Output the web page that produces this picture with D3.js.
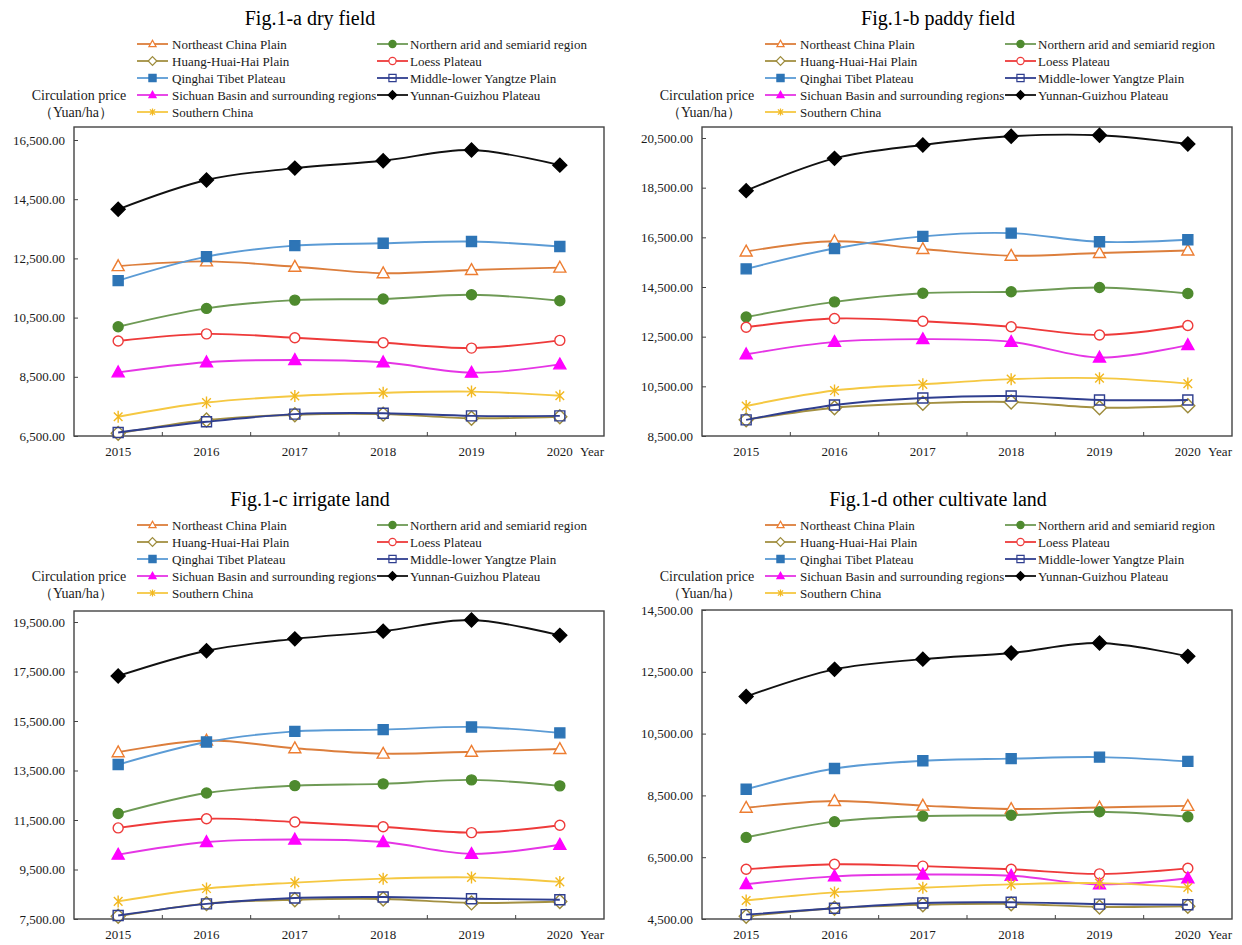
<!DOCTYPE html>
<html>
<head>
<meta charset="utf-8">
<script src="https://cdn.jsdelivr.net/npm/d3@7"></script>
<style>
  body { margin: 0; background: #fff; }
  text { font-family: "Liberation Serif", "Times New Roman", serif; fill: #1a1a1a; }
</style>
</head>
<body>
<div id="root"></div>
<script>
// Chart values.
const years = [2015, 2016, 2017, 2018, 2019, 2020];

const regions = [
  'Northeast China Plain', 'Northern arid and semiarid region',
  'Huang-Huai-Hai Plain', 'Loess Plateau',
  'Qinghai Tibet Plateau', 'Middle-lower Yangtze Plain',
  'Sichuan Basin and surrounding regions', 'Yunnan-Guizhou Plateau',
  'Southern China'
];

const panelTitles = ['Fig.1-a dry field', 'Fig.1-b paddy field', 'Fig.1-c irrigate land', 'Fig.1-d other cultivate land'];

// one row per region, same order as regions
const dryField = [
  [12240, 12400, 12220, 12000, 12110, 12190],
  [10190, 10810, 11090, 11130, 11270, 11070],
  [6590, 7040, 7220, 7240, 7100, 7150],
  [9710, 9950, 9820, 9650, 9470, 9730],
  [11750, 12560, 12930, 13010, 13070, 12900],
  [6620, 6980, 7240, 7270, 7180, 7180],
  [8650, 8990, 9070, 8990, 8640, 8920],
  [14160, 15150, 15550, 15800, 16160, 15650],
  [7150, 7630, 7850, 7960, 8000, 7860]
];

const paddyField = [
  [15930, 16340, 16030, 15760, 15870, 15970],
  [13290, 13900, 14250, 14310, 14480, 14240],
  [9150, 9640, 9820, 9870, 9640, 9720],
  [12880, 13230, 13120, 12900, 12570, 12950],
  [15230, 16050, 16540, 16670, 16320, 16400],
  [9150, 9750, 10030, 10110, 9950, 9950],
  [11790, 12290, 12400, 12290, 11660, 12160],
  [18380, 19680, 20220, 20570, 20610, 20260],
  [9710, 10330, 10580, 10790, 10830, 10610]
];

const irrigateLand = [
  [14240, 14710, 14400, 14180, 14260, 14370],
  [11760, 12590, 12890, 12960, 13120, 12880],
  [7610, 8120, 8280, 8310, 8150, 8210],
  [11180, 11550, 11420, 11230, 10990, 11290],
  [13740, 14650, 15080, 15150, 15260, 15020],
  [7640, 8110, 8350, 8390, 8320, 8280],
  [10100, 10610, 10710, 10610, 10130, 10500],
  [17320, 18340, 18820, 19130, 19580, 18960],
  [8210, 8730, 8970, 9130, 9180, 9000]
];

const otherLand = [
  [8100, 8320, 8170, 8060, 8110, 8160],
  [7140, 7650, 7830, 7860, 7970, 7810],
  [4590, 4850, 4960, 4990, 4890, 4910],
  [6110, 6270, 6210, 6110, 5960, 6140],
  [8700, 9370, 9620, 9690, 9740, 9600],
  [4640, 4850, 5020, 5040, 4980, 4960],
  [5630, 5880, 5940, 5900, 5620, 5820],
  [11700, 12580, 12910, 13110, 13430, 13000],
  [5100, 5360, 5510, 5620, 5660, 5520]
];

const dryTicks = [6500, 8500, 10500, 12500, 14500, 16500];
const paddyTicks = [8500, 10500, 12500, 14500, 16500, 18500, 20500];
const irrigateTicks = [7500, 9500, 11500, 13500, 15500, 17500, 19500];
const otherTicks = [4500, 6500, 8500, 10500, 12500, 14500];

// Styles for each region (same order).
const seriesStyle = [
  { line: '#DC7E3C', stroke: '#ED7D31', fill: '#fff', shape: 'triangle' },
  { line: '#6E9A55', stroke: '#4E8A2E', fill: '#4E8A2E', shape: 'circle' },
  { line: '#A39042', stroke: '#9C8A3A', fill: '#fff', shape: 'diamond' },
  { line: '#EE3A3A', stroke: '#EE3A3A', fill: '#fff', shape: 'circle' },
  { line: '#5B9BD5', stroke: '#2E75B6', fill: '#2E75B6', shape: 'square' },
  { line: '#2F3E8F', stroke: '#2F3E8F', fill: 'none', shape: 'square' },
  { line: '#E535E5', stroke: '#FF00FF', fill: '#FF00FF', shape: 'triangle' },
  { line: '#111111', stroke: '#000', fill: '#000', shape: 'diamond' },
  { line: '#F5C842', stroke: '#F2B820', fill: 'none', shape: 'star' }
];

// Layout of the four panels.
const panels = [
  { title: panelTitles[0], data: dryField, ticks: dryTicks, ox: 0, oy: 0, left: 74, right: 604, top: 127, bottom: 436, tickTop: 140 },
  { title: panelTitles[1], data: paddyField, ticks: paddyTicks, ox: 628, oy: 0, left: 702, right: 1232, top: 127, bottom: 436, tickTop: 138 },
  { title: panelTitles[2], data: irrigateLand, ticks: irrigateTicks, ox: 0, oy: 481, left: 74, right: 604, top: 611, bottom: 919, tickTop: 622 },
  { title: panelTitles[3], data: otherLand, ticks: otherTicks, ox: 628, oy: 481, left: 702, right: 1232, top: 610, bottom: 919, tickTop: 610 }
];

function markerPath(shape, r) {
  if (shape === 'triangle') return `M0,${-r * 1.05}L${r},${r * 0.75}L${-r},${r * 0.75}Z`;
  if (shape === 'circle') return `M${r},0A${r},${r} 0 1,1 ${-r},0A${r},${r} 0 1,1 ${r},0Z`;
  if (shape === 'square') return `M${-r},${-r}H${r}V${r}H${-r}Z`;
  if (shape === 'diamond') return `M0,${-r * 1.2}L${r * 1.2},0L0,${r * 1.2}L${-r * 1.2},0Z`;
  const d = r * 0.72;
  return `M0,${-r}V${r}M${-d},${-d}L${d},${d}M${-d},${d}L${d},${-d}`;
}

const svg = d3.select('#root')
  .append('svg')
  .attr('width', 1242)
  .attr('height', 945);

const fmt = d3.format(',.2f');

panels.forEach(function (p) {
  const g = svg.append('g');

  const x = d3.scaleBand().domain(years).range([p.left, p.right]).padding(0);
  const y = d3.scaleLinear()
    .domain([p.ticks[0], p.ticks[p.ticks.length - 1]])
    .range([p.bottom, p.tickTop]);

  // Title
  g.append('text')
    .attr('x', p.ox + 310)
    .attr('y', p.oy + 25)
    .attr('text-anchor', 'middle')
    .style('font-size', '20px')
    .style('fill', '#000')
    .text(p.title);

  // Axis label
  g.append('text')
    .attr('x', p.ox + 79).attr('y', p.oy + 100)
    .attr('text-anchor', 'middle')
    .style('font-size', '14px')
    .text('Circulation price');
  g.append('text')
    .attr('x', p.ox + 76).attr('y', p.oy + 117)
    .attr('text-anchor', 'middle')
    .style('font-size', '14px')
    .text('（Yuan/ha）');

  // Legend
  const legend = g.selectAll('.legend-item')
    .data(regions)
    .enter()
    .append('g')
    .attr('class', 'legend-item')
    .attr('transform', function (d, i) {
      const lx = p.ox + (i % 2 === 0 ? 137 : 377);
      const ly = p.oy + 44 + Math.floor(i / 2) * 17;
      return `translate(${lx},${ly})`;
    });
  legend.append('line')
    .attr('x1', 0).attr('x2', 31)
    .attr('stroke', function (d, i) { return seriesStyle[i].line; })
    .attr('stroke-width', 1.8);
  legend.append('path')
    .attr('transform', 'translate(15.5,0)')
    .attr('d', function (d, i) { return markerPath(seriesStyle[i].shape, 3.6); })
    .attr('fill', function (d, i) { return seriesStyle[i].fill; })
    .attr('stroke', function (d, i) { return seriesStyle[i].stroke; })
    .attr('stroke-width', 1.2);
  legend.append('text')
    .attr('x', function (d, i) { return i % 2 === 0 ? 35 : 33; })
    .attr('y', 4.5)
    .style('font-size', '13px')
    .text(function (d) { return d; });

  // Plot box
  g.append('rect')
    .attr('x', p.left).attr('y', p.top)
    .attr('width', p.right - p.left).attr('height', p.bottom - p.top)
    .attr('fill', 'none')
    .attr('stroke', '#444')
    .attr('stroke-width', 1.4);

  // Y axis
  const yAxis = g.append('g')
    .attr('transform', `translate(${p.left},0)`)
    .call(d3.axisLeft(y).tickValues(p.ticks).tickFormat(fmt).tickSize(-4).tickPadding(9));
  yAxis.select('.domain').remove();
  yAxis.selectAll('line').attr('stroke', '#444');
  yAxis.selectAll('text').style('font-size', '13px').style('font-family', '"Liberation Serif", serif').attr('fill', '#1a1a1a');

  // X axis
  const xAxis = g.append('g')
    .attr('transform', `translate(0,${p.bottom})`)
    .call(d3.axisBottom(x).tickSize(0).tickPadding(11));
  xAxis.select('.domain').remove();
  xAxis.selectAll('text').style('font-size', '13px').style('font-family', '"Liberation Serif", serif').attr('fill', '#1a1a1a');
  g.selectAll('.xtick')
    .data(years.slice(0, -1))
    .enter()
    .append('line')
    .attr('x1', function (d) { return x(d) + x.bandwidth(); })
    .attr('x2', function (d) { return x(d) + x.bandwidth(); })
    .attr('y1', p.bottom).attr('y2', p.bottom - 4)
    .attr('stroke', '#444');
  g.append('text')
    .attr('x', p.right - 24)
    .attr('y', p.bottom + 20)
    .style('font-size', '13px')
    .text('Year');

  // Lines and markers
  const line = d3.line()
    .x(function (d, i) { return x(years[i]) + x.bandwidth() / 2; })
    .y(function (d) { return y(d); })
    .curve(d3.curveCardinal.tension(0));

  p.data.forEach(function (values, si) {
    const st = seriesStyle[si];
    g.append('path')
      .datum(values)
      .attr('d', line)
      .attr('fill', 'none')
      .attr('stroke', st.line)
      .attr('stroke-width', 1.9);
    const r = st.shape === 'circle' ? 5 : (st.shape === 'square' ? 5 : (st.shape === 'diamond' ? 5.8 : 6));
    g.selectAll('.m' + si)
      .data(values)
      .enter()
      .append('path')
      .attr('transform', function (d, i) {
        return `translate(${x(years[i]) + x.bandwidth() / 2},${y(d)})`;
      })
      .attr('d', markerPath(st.shape, r))
      .attr('fill', st.fill)
      .attr('stroke', st.stroke)
      .attr('stroke-width', 1.4);
  });
});
</script>
</body>
</html>
